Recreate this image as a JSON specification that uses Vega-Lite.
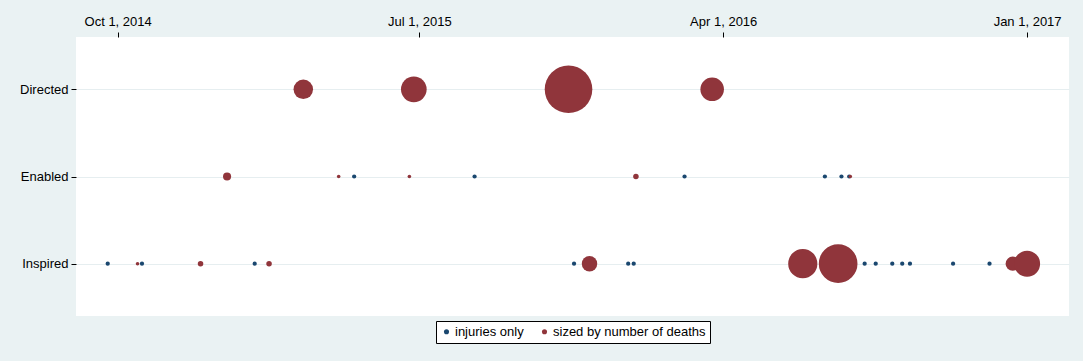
{
  "$schema": "https://vega.github.io/schema/vega-lite/v6.json",
  "width": 993,
  "height": 279,
  "autosize": {"type": "none"},
  "padding": {"left": 76, "top": 37, "right": 14, "bottom": 45},
  "background": "#EAF2F3",
  "config": {
    "view": {"fill": "#ffffff", "stroke": null},
    "font": "Liberation Sans",
    "axis": {
      "labelFont": "Liberation Sans",
      "labelFontSize": 13,
      "labelColor": "#000000",
      "tickColor": "#000000",
      "tickSize": 5,
      "tickWidth": 1,
      "domain": false,
      "title": null
    }
  },
  "datasets": {
    "injuries": [
      {"cat": "Enabled", "date": "2015-05-03", "type": "injuries only"},
      {"cat": "Enabled", "date": "2015-08-20", "type": "injuries only"},
      {"cat": "Enabled", "date": "2016-02-26", "type": "injuries only"},
      {"cat": "Enabled", "date": "2016-07-02", "type": "injuries only"},
      {"cat": "Enabled", "date": "2016-07-17", "type": "injuries only"},
      {"cat": "Enabled", "date": "2016-07-24", "type": "injuries only"},
      {"cat": "Inspired", "date": "2014-09-22", "type": "injuries only"},
      {"cat": "Inspired", "date": "2014-10-23", "type": "injuries only"},
      {"cat": "Inspired", "date": "2015-02-02", "type": "injuries only"},
      {"cat": "Inspired", "date": "2015-11-18", "type": "injuries only"},
      {"cat": "Inspired", "date": "2016-01-06", "type": "injuries only"},
      {"cat": "Inspired", "date": "2016-01-11", "type": "injuries only"},
      {"cat": "Inspired", "date": "2016-08-07", "type": "injuries only"},
      {"cat": "Inspired", "date": "2016-08-17", "type": "injuries only"},
      {"cat": "Inspired", "date": "2016-09-01", "type": "injuries only"},
      {"cat": "Inspired", "date": "2016-09-10", "type": "injuries only"},
      {"cat": "Inspired", "date": "2016-09-17", "type": "injuries only"},
      {"cat": "Inspired", "date": "2016-10-26", "type": "injuries only"},
      {"cat": "Inspired", "date": "2016-11-28", "type": "injuries only"}
    ],
    "deaths": [
      {"cat": "Directed", "date": "2015-03-18", "deaths": 22, "type": "sized by number of deaths"},
      {"cat": "Directed", "date": "2015-06-26", "deaths": 38, "type": "sized by number of deaths"},
      {"cat": "Directed", "date": "2015-11-13", "deaths": 130, "type": "sized by number of deaths"},
      {"cat": "Directed", "date": "2016-03-22", "deaths": 32, "type": "sized by number of deaths"},
      {"cat": "Enabled", "date": "2015-01-08", "deaths": 4, "type": "sized by number of deaths"},
      {"cat": "Enabled", "date": "2015-04-19", "deaths": 1, "type": "sized by number of deaths"},
      {"cat": "Enabled", "date": "2015-06-22", "deaths": 1, "type": "sized by number of deaths"},
      {"cat": "Enabled", "date": "2016-01-13", "deaths": 2, "type": "sized by number of deaths"},
      {"cat": "Enabled", "date": "2016-07-25", "deaths": 1, "type": "sized by number of deaths"},
      {"cat": "Inspired", "date": "2014-10-19", "deaths": 1, "type": "sized by number of deaths"},
      {"cat": "Inspired", "date": "2014-12-15", "deaths": 2, "type": "sized by number of deaths"},
      {"cat": "Inspired", "date": "2015-02-15", "deaths": 2, "type": "sized by number of deaths"},
      {"cat": "Inspired", "date": "2015-12-02", "deaths": 14, "type": "sized by number of deaths"},
      {"cat": "Inspired", "date": "2016-06-12", "deaths": 49, "type": "sized by number of deaths"},
      {"cat": "Inspired", "date": "2016-07-14", "deaths": 86, "type": "sized by number of deaths"},
      {"cat": "Inspired", "date": "2016-12-19", "deaths": 12, "type": "sized by number of deaths"},
      {"cat": "Inspired", "date": "2017-01-01", "deaths": 39, "type": "sized by number of deaths"}
    ]
  },
  "encoding": {
    "x": {
      "field": "date",
      "type": "temporal",
      "scale": {
        "type": "utc",
        "domain": [
          {"year": 2014, "month": 8, "date": 24, "hours": 7, "utc": true},
          {"year": 2017, "month": 2, "date": 7, "hours": 22, "utc": true}
        ]
      },
      "axis": {
        "orient": "top",
        "values": [
          {"year": 2014, "month": 10, "date": 1, "utc": true},
          {"year": 2015, "month": 7, "date": 1, "utc": true},
          {"year": 2016, "month": 4, "date": 1, "utc": true},
          {"year": 2017, "month": 1, "date": 1, "utc": true}
        ],
        "format": "%b %-d, %Y",
        "labelPadding": 4,
        "grid": false,
        "title": null
      }
    },
    "y": {
      "field": "cat",
      "type": "nominal",
      "sort": ["Directed", "Enabled", "Inspired"],
      "scale": {"type": "point", "padding": 0.6},
      "axis": {
        "grid": true,
        "gridColor": "#E6EEF0",
        "gridWidth": 1,
        "labelPadding": 3,
        "title": null
      }
    },
    "color": {
      "field": "type",
      "type": "nominal",
      "scale": {
        "domain": ["injuries only", "sized by number of deaths"],
        "range": ["#1A476F", "#90353B"]
      },
      "legend": {
        "title": null,
        "orient": "none",
        "legendX": 360,
        "legendY": 284,
        "direction": "horizontal",
        "strokeColor": "#000000",
        "fillColor": "#ffffff",
        "padding": 4,
        "symbolType": "circle",
        "symbolSize": 26,
        "symbolOpacity": 1,
        "labelFont": "Liberation Sans",
        "labelFontSize": 13,
        "labelColor": "#000000",
        "labelOffset": 2,
        "columnPadding": 14
      }
    }
  },
  "layer": [
    {
      "data": {"name": "injuries"},
      "mark": {"type": "point", "filled": true, "shape": "circle", "size": 18, "opacity": 1}
    },
    {
      "data": {"name": "deaths"},
      "mark": {"type": "circle", "opacity": 1},
      "encoding": {
        "size": {
          "field": "deaths",
          "type": "quantitative",
          "scale": {"type": "linear", "zero": false, "domain": [1, 130], "range": [13, 2265]},
          "legend": null
        }
      }
    }
  ]
}
